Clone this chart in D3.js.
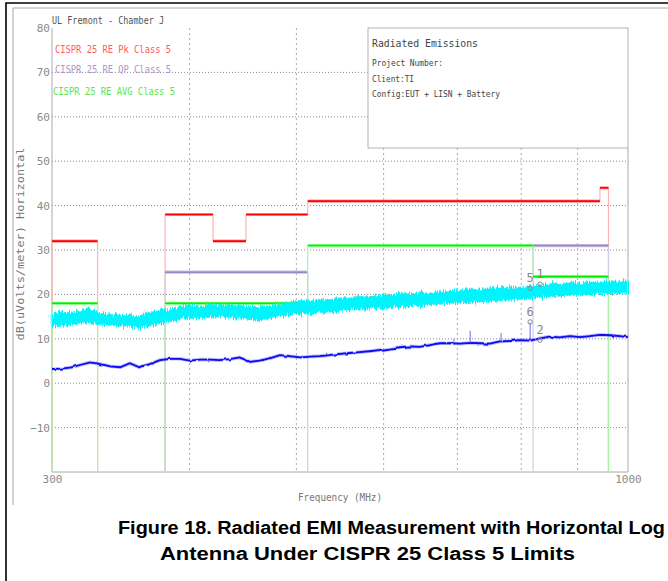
<!DOCTYPE html>
<html><head><meta charset="utf-8">
<script src="https://cdn.jsdelivr.net/npm/d3@7"></script>
<style>body{margin:0;background:#fff;} svg{display:block;}</style>
</head><body><div id="chart"></div>
<script>
// ---- data ----
const freqs = [300,305,312,318,325,332,339,346,353,360,368,376,384,392,400,409,417,426,435,444,454,463,473,483,493,504,515,525,536,548,559,571,583,596,608,621,634,647,661,675,689,704,719,734,749,765,781,798,815,832,849,867,886,904,923,943,963,983,1000];
const peakHi = [15.6,16.0,15.9,16.4,16.8,16.0,15.5,15.6,15.3,15.2,15.7,16.5,16.6,17.3,17.6,17.4,17.9,17.6,17.8,17.4,17.2,17.3,17.5,18.0,18.2,18.7,18.5,18.9,18.8,19.3,19.2,19.6,19.5,19.9,19.8,20.3,20.1,20.4,20.3,20.6,20.9,20.8,21.2,21.0,21.3,21.4,21.7,21.6,22.0,22.1,22.5,22.3,22.8,22.6,23.0,22.8,23.1,22.9,23.3];
const peakLo = [12.8,13.0,13.1,13.5,13.6,13.2,13.0,12.9,12.8,12.3,12.9,13.4,13.9,14.5,14.6,14.7,14.8,14.9,14.7,14.6,14.3,14.2,14.6,15.0,15.4,15.6,15.7,15.9,16.0,16.2,16.5,16.7,16.8,16.9,17.0,17.1,17.4,17.5,17.6,17.8,18.0,18.1,18.2,18.3,18.4,18.6,18.7,18.9,19.1,19.3,19.5,19.6,19.8,19.9,20.0,20.1,20.2,20.2,20.3];
const avgTrace = [3.2,3.3,3.5,4.1,4.7,4.3,3.8,3.6,4.5,3.6,4.3,5.2,5.5,5.5,5.1,5.3,5.3,5.2,5.4,5.8,4.8,5.1,5.6,6.3,6.1,5.8,6.0,6.1,6.3,6.6,6.8,7.0,7.2,7.5,7.8,8.1,8.3,8.2,8.6,9.0,9.0,8.9,9.1,9.0,8.9,9.4,9.5,9.7,9.6,10.1,10.5,10.3,10.6,10.4,10.6,10.9,10.8,10.6,10.4];

const pkStart = [300,380,420,450,512,943];
const pkStop  = [330,420,450,512,943,960];
const pkLevel = [32,38,32,38,41,44];
const qpStart = [380,820];
const qpStop  = [512,960];
const qpLevel = [25,31];
const avgStart = [300,380,512,820];
const avgStop  = [330,512,820,960];
const avgLevel = [18,18,31,24];

const spikeFreq = [695,719,767,815];
const spikeBase = [9.0,9.1,9.4,9.6];
const spikeTop  = [10.0,11.8,11.3,13.6];

const markerLabel = ["1","2","5","6"];
const markerFreq  = [832,832,815,815];
const markerLevel = [22.3,9.7,21.4,13.8];

const yTickValues = [-10,0,10,20,30,40,50,60,70,80];
const yGridValues = [-10,0,10,20,30,40,50,60,70];
const xGridValues = [400,500,600,700,800,900];
const xTickValues = [300,1000];

const legendLabels = ["CISPR 25 RE Pk Class 5","CISPR 25 RE QP Class 5","CISPR 25 RE AVG Class 5"];
const infoLines = ["Project Number:","Client:TI","Config:EUT + LISN + Battery"];

// ---- drawing ----
const W=668,H=581;
const svg = d3.select("#chart").append("svg").attr("width",W).attr("height",H);
const x = d3.scaleLog().domain([300,1000]).range([52,628]);
const y = d3.scaleLinear().domain([-20,80]).range([472,28]);
const FLOOR = -20;
const mono = "'DejaVu Sans Mono', monospace";

// noise texture filters (visual style only)
const defs = svg.append("defs");
const f1 = defs.append("filter").attr("id","noisy").attr("filterUnits","userSpaceOnUse")
  .attr("x",0).attr("y",0).attr("width",W).attr("height",H);
f1.append("feTurbulence").attr("type","fractalNoise").attr("baseFrequency","0.9 0.04").attr("numOctaves",2).attr("seed",3).attr("result","n");
f1.append("feDisplacementMap").attr("in","SourceGraphic").attr("in2","n").attr("scale",9).attr("xChannelSelector","A").attr("yChannelSelector","R");
const f2 = defs.append("filter").attr("id","wiggle").attr("filterUnits","userSpaceOnUse")
  .attr("x",0).attr("y",0).attr("width",W).attr("height",H);
f2.append("feTurbulence").attr("type","fractalNoise").attr("baseFrequency","0.18 0.05").attr("numOctaves",1).attr("seed",7).attr("result","n");
f2.append("feDisplacementMap").attr("in","SourceGraphic").attr("in2","n").attr("scale",3).attr("xChannelSelector","A").attr("yChannelSelector","R");

// outer frames
svg.append("path").attr("d","M6,581V3H668").attr("fill","none").attr("stroke","#000").attr("stroke-width",1.6);
svg.append("path").attr("d","M13,505V8H668").attr("fill","none").attr("stroke","#a8a8a8").attr("stroke-width",1);

// grid
svg.append("g").selectAll("line").data(yGridValues).join("line")
  .attr("x1",x(300)).attr("x2",x(1000)).attr("y1",d=>y(d)).attr("y2",d=>y(d))
  .attr("stroke","#8c8c8c").attr("stroke-width",1).attr("stroke-dasharray","1,2");
svg.append("g").selectAll("line").data(xGridValues).join("line")
  .attr("x1",d=>x(d)).attr("x2",d=>x(d)).attr("y1",y(80)).attr("y2",y(FLOOR))
  .attr("stroke","#aaa").attr("stroke-width",1).attr("stroke-dasharray","2,3");

// info box
svg.append("rect").attr("x",368).attr("y",y(80)).attr("width",x(1000)-368).attr("height",120)
  .attr("fill","#fff").attr("stroke","#b4b4b4").attr("stroke-width",1);
svg.append("text").attr("x",372).attr("y",47).text("Radiated Emissions")
  .attr("font-family",mono).attr("font-size",11).attr("fill","#444").attr("textLength",106).attr("lengthAdjust","spacingAndGlyphs");
const infoW=[71,42,128];
infoLines.forEach((t,i)=>{
  svg.append("text").attr("x",372).attr("y",66+i*15.5).text(t)
   .attr("font-family",mono).attr("font-size",9.5).attr("fill","#444").attr("textLength",infoW[i]).attr("lengthAdjust","spacingAndGlyphs");
});

// axes lines
svg.append("line").attr("x1",x(300)).attr("x2",x(300)).attr("y1",y(80)).attr("y2",y(FLOOR)).attr("stroke","#aaa");
svg.append("line").attr("x1",x(300)).attr("x2",x(1000)).attr("y1",y(FLOOR)).attr("y2",y(FLOOR)).attr("stroke","#aaa");
svg.append("line").attr("x1",x(1000)).attr("x2",x(1000)).attr("y1",148).attr("y2",y(FLOOR)).attr("stroke","#aaa");

// axes labels
const ya = svg.append("g").attr("transform",`translate(${x(300)},0)`)
  .call(d3.axisLeft(y).tickValues(yTickValues).tickSize(0).tickPadding(2).tickFormat(d3.format("d")));
ya.select(".domain").remove();
ya.selectAll("text").attr("font-family",mono).attr("font-size",11).attr("fill","#8a8a8a");
const xa = svg.append("g").attr("transform",`translate(0,${y(FLOOR)})`)
  .call(d3.axisBottom(x).tickValues(xTickValues).tickSize(0).tickPadding(3).tickFormat(d3.format("d")));
xa.select(".domain").remove();
xa.selectAll("text").attr("font-family",mono).attr("font-size",11).attr("fill","#8a8a8a");

svg.append("text").attr("x",340).attr("y",501).attr("text-anchor","middle").text("Frequency (MHz)")
  .attr("font-family",mono).attr("font-size",10.5).attr("fill","#777").attr("textLength",84).attr("lengthAdjust","spacingAndGlyphs");
svg.append("text").attr("transform","translate(24,244) rotate(-90)").attr("text-anchor","middle")
  .text("dB(uVolts/meter) Horizontal").attr("font-family",mono).attr("font-size",10.5).attr("fill","#777")
  .attr("textLength",193).attr("lengthAdjust","spacingAndGlyphs");

// title + legend
svg.append("text").attr("x",52).attr("y",24).text("UL Fremont - Chamber J")
  .attr("font-family",mono).attr("font-size",11).attr("fill","#555").attr("textLength",112).attr("lengthAdjust","spacingAndGlyphs");
const legendColors = ["#ff5a5a","#a898c8","#50e850"];
const legendY = [53,73,95], legendX=[55,55,53], legendW=[116,116,122];
legendLabels.forEach((t,i)=>{
  svg.append("text").attr("x",legendX[i]).attr("y",legendY[i]).text(t)
   .attr("font-family",mono).attr("font-size",11).attr("fill",legendColors[i])
   .attr("textLength",legendW[i]).attr("lengthAdjust","spacingAndGlyphs");
});

// limit lines
function drawLimit(starts, stops, levels, main, halo, pale){
  const g = svg.append("g");
  starts.forEach((s,i)=>{
    const prevAdj = i>0 && stops[i-1]===s;
    const from = prevAdj ? levels[i-1] : FLOOR;
    g.append("line").attr("x1",x(s)).attr("x2",x(s)).attr("y1",y(from)).attr("y2",y(levels[i]))
      .attr("stroke",pale).attr("stroke-width",1.2);
    const nextAdj = i<starts.length-1 && starts[i+1]===stops[i];
    if(!nextAdj){
      g.append("line").attr("x1",x(stops[i])).attr("x2",x(stops[i])).attr("y1",y(levels[i])).attr("y2",y(FLOOR))
        .attr("stroke",pale).attr("stroke-width",1.2);
    }
  });
  starts.forEach((s,i)=>{
    g.append("line").attr("x1",x(s)).attr("x2",x(stops[i])).attr("y1",y(levels[i])).attr("y2",y(levels[i]))
      .attr("stroke",halo).attr("stroke-width",3.2);
    g.append("line").attr("x1",x(s)).attr("x2",x(stops[i])).attr("y1",y(levels[i])).attr("y2",y(levels[i]))
      .attr("stroke",main).attr("stroke-width",1.6);
  });
}
drawLimit(pkStart,pkStop,pkLevel,"#ff0000","#ff9a9a","#ffb4b4");
drawLimit(qpStart,qpStop,qpLevel,"#9a86c0","#c8bce0","#d4cce6");
drawLimit(avgStart,avgStop,avgLevel,"#00ee00","#90ff90","#a8f4a8");

// peak trace (cyan band)
const idx = d3.range(freqs.length);
svg.append("path").datum(idx)
  .attr("d", d3.area().x(i=>x(freqs[i])).y0(i=>y(peakLo[i])).y1(i=>y(peakHi[i])))
  .attr("fill","#00f4fc").attr("stroke","#00eaf8").attr("stroke-width",0.6)
  .attr("filter","url(#noisy)");

// average trace (blue)
const line = d3.line().x(i=>x(freqs[i])).y(i=>y(avgTrace[i]));
const bg = svg.append("g").attr("filter","url(#wiggle)");
bg.append("path").datum(idx).attr("d",line).attr("fill","none").attr("stroke","#7a7aff").attr("stroke-width",3.6).attr("stroke-opacity",0.5);
bg.append("path").datum(idx).attr("d",line).attr("fill","none").attr("stroke","#0808f0").attr("stroke-width",1.8);

// spikes
svg.append("g").selectAll("line").data(spikeFreq).join("line")
  .attr("x1",d=>x(d)).attr("x2",d=>x(d)).attr("y1",(d,i)=>y(spikeBase[i])).attr("y2",(d,i)=>y(spikeTop[i]))
  .attr("stroke","#6a6aff").attr("stroke-width",1);

// markers
markerLabel.forEach((t,i)=>{
  const cx=x(markerFreq[i]), cy=y(markerLevel[i]);
  svg.append("circle").attr("cx",cx).attr("cy",cy).attr("r",2.2).attr("fill","none").attr("stroke","#888").attr("stroke-width",1);
  svg.append("text").attr("x",cx).attr("y",cy-6).attr("text-anchor","middle").text(t)
    .attr("font-family",mono).attr("font-size",12).attr("fill","#888");
});

// caption
svg.append("text").attr("x",118).attr("y",534).text("Figure 18. Radiated EMI Measurement with Horizontal Log")
  .attr("font-family","'Liberation Sans', Arial, sans-serif").attr("font-weight","bold").attr("font-size",18)
  .attr("fill","#000").attr("textLength",547).attr("lengthAdjust","spacingAndGlyphs");
svg.append("text").attr("x",160).attr("y",560).text("Antenna Under CISPR 25 Class 5 Limits")
  .attr("font-family","'Liberation Sans', Arial, sans-serif").attr("font-weight","bold").attr("font-size",18)
  .attr("fill","#000").attr("textLength",415).attr("lengthAdjust","spacingAndGlyphs");
</script></body></html>
